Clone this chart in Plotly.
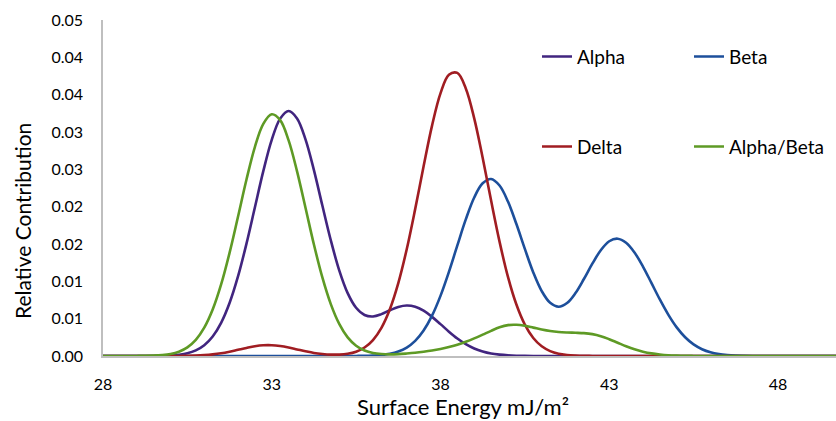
import plotly.graph_objects as go

x_values = [28.0, 28.25, 28.5, 28.75, 29.0, 29.25, 29.5, 29.75, 30.0, 30.25, 30.5, 30.75,
            31.0, 31.25, 31.5, 31.75, 32.0, 32.25, 32.5, 32.75, 33.0, 33.25, 33.5, 33.75,
            34.0, 34.25, 34.5, 34.75, 35.0, 35.25, 35.5, 35.75, 36.0, 36.25, 36.5, 36.75,
            37.0, 37.25, 37.5, 37.75, 38.0, 38.25, 38.5, 38.75, 39.0, 39.25, 39.5, 39.75,
            40.0, 40.25, 40.5, 40.75, 41.0, 41.25, 41.5, 41.75, 42.0, 42.25, 42.5, 42.75,
            43.0, 43.25, 43.5, 43.75, 44.0, 44.25, 44.5, 44.75, 45.0, 45.25, 45.5, 45.75,
            46.0, 46.25, 46.5, 46.75, 47.0, 47.25, 47.5, 47.75, 48.0, 48.25, 48.5, 48.75,
            49.0, 49.25, 49.5, 49.75, 50.0]

alpha = [0, 0, 0, 0, 0, 0, 0.00001, 0.00003, 0.00007, 0.00017, 0.00036, 0.00075,
         0.00144, 0.00261, 0.00444, 0.00709, 0.01065, 0.01502, 0.01989, 0.02476, 0.02895, 0.03179, 0.03281, 0.03182,
         0.02901, 0.02489, 0.02015, 0.0155, 0.01147, 0.00842, 0.00646, 0.00549, 0.0053, 0.00561, 0.00613, 0.00657,
         0.00676, 0.0066, 0.00607, 0.00524, 0.00427, 0.00326, 0.00234, 0.00158, 0.001, 0.0006, 0.00033, 0.00018,
         0.00009, 0.00004, 0.00002, 0.00001, 0, 0, 0, 0, 0, 0, 0, 0,
         0, 0, 0, 0, 0, 0, 0, 0, 0, 0, 0, 0,
         0, 0, 0, 0, 0, 0, 0, 0, 0, 0, 0, 0,
         0, 0, 0, 0, 0]

beta = [0, 0, 0, 0, 0, 0, 0, 0, 0, 0, 0, 0,
        0, 0, 0, 0, 0, 0, 0, 0, 0, 0, 0, 0,
        0, 0, 0, 0, 0, 0, 0.00001, 0.00002, 0.00006, 0.00013, 0.00029, 0.00059,
        0.00112, 0.00202, 0.00341, 0.0054, 0.00805, 0.01126, 0.01481, 0.01829, 0.02123, 0.02313, 0.02371, 0.02283,
        0.02068, 0.01767, 0.01434, 0.01119, 0.00869, 0.00712, 0.0066, 0.00709, 0.00843, 0.01031, 0.01236, 0.01417,
        0.01537, 0.01571, 0.01517, 0.01386, 0.01198, 0.00979, 0.00757, 0.00554, 0.00383, 0.00251, 0.00155, 0.00091,
        0.0005, 0.00026, 0.00013, 0.00006, 0.00003, 0.00001, 0, 0, 0, 0, 0, 0,
        0, 0, 0, 0, 0]

delta = [0, 0, 0, 0, 0, 0, 0, 0, 0, 0.00001, 0.00003, 0.00006,
         0.00012, 0.00022, 0.00037, 0.00058, 0.00083, 0.00108, 0.0013, 0.00143, 0.00144, 0.00133, 0.00113, 0.00088,
         0.00063, 0.00041, 0.00027, 0.00019, 0.00019, 0.0003, 0.00058, 0.00114, 0.00214, 0.00378, 0.00627, 0.00977,
         0.0143, 0.01967, 0.02541, 0.03085, 0.03517, 0.03767, 0.03791, 0.03584, 0.03183, 0.02655, 0.02081, 0.01532,
         0.01059, 0.00689, 0.0042, 0.00241, 0.0013, 0.00066, 0.00031, 0.00014, 0.00006, 0.00002, 0.00001, 0,
         0, 0, 0, 0, 0, 0, 0, 0, 0, 0, 0, 0,
         0, 0, 0, 0, 0, 0, 0, 0, 0, 0, 0, 0,
         0, 0, 0, 0, 0]

alpha_beta = [0, 0, 0, 0, 0.00001, 0.00002, 0.00005, 0.00012, 0.00027, 0.00058, 0.00116, 0.00216,
              0.00379, 0.00622, 0.00958, 0.01381, 0.01865, 0.0236, 0.02799, 0.0311, 0.03238, 0.03159, 0.02888, 0.02473,
              0.01986, 0.01493, 0.01052, 0.00695, 0.0043, 0.00249, 0.00137, 0.00073, 0.0004, 0.00026, 0.00022, 0.00025,
              0.00033, 0.00043, 0.00057, 0.00074, 0.00095, 0.0012, 0.0015, 0.0019, 0.00236, 0.00286, 0.00337, 0.00384,
              0.00414, 0.00418, 0.00404, 0.0038, 0.00355, 0.00335, 0.00322, 0.00315, 0.00311, 0.00306, 0.00293, 0.00266,
              0.00225, 0.00178, 0.00131, 0.0009, 0.00058, 0.00035, 0.0002, 0.0001, 0.00005, 0.00002, 0.00001, 0,
              0, 0, 0, 0, 0, 0, 0, 0, 0, 0, 0, 0,
              0, 0, 0, 0, 0]

series_names = ["Alpha", "Beta", "Delta", "Alpha/Beta"]
series_colors = ["#41257f", "#1d4f9b", "#a01d22", "#5e9a25"]
series_legends = ["legend", "legend", "legend2", "legend2"]

x_ticks = [28, 33, 38, 43, 48]
y_ticks = [0, 0.005, 0.01, 0.015, 0.02, 0.025, 0.03, 0.035, 0.04, 0.045]
y_tick_text = ["0.00", "0.01", "0.01", "0.02", "0.02", "0.03", "0.03", "0.04", "0.04", "0.05"]

FONT = "Lato, 'Open Sans', sans-serif"

W, H = 836, 421
ML, MT, MB, MR = 103, 20, 65, 0
PW, PH = W - ML - MR, H - MT - MB


def px(x):
    return (x - ML) / PW


def py(y):
    return 1 - (y - MT) / PH


fig = go.Figure()
for name, ys, col, lg in zip(series_names, [alpha, beta, delta, alpha_beta], series_colors, series_legends):
    fig.add_trace(go.Scatter(
        x=x_values, y=ys, mode="lines", name=name,
        line=dict(color=col, width=2.6, shape="spline", smoothing=1.0),
        legend=lg,
    ))

fig.update_layout(
    width=W, height=H,
    margin=dict(l=ML, r=MR, t=MT, b=MB, pad=0, autoexpand=False),
    paper_bgcolor="white", plot_bgcolor="white",
    font=dict(family=FONT, color="black", size=16),
    showlegend=True,
    legend=dict(orientation="h", x=px(537), y=py(56.7), xanchor="left", yanchor="middle",
                entrywidth=107, entrywidthmode="pixels", font=dict(size=19, family=FONT),
                bgcolor="rgba(0,0,0,0)", itemclick=False),
    legend2=dict(orientation="h", x=px(537), y=py(146.7), xanchor="left", yanchor="middle",
                 entrywidth=107, entrywidthmode="pixels", font=dict(size=19, family=FONT),
                 bgcolor="rgba(0,0,0,0)", itemclick=False),
    xaxis=dict(range=[28, 49.72], tickvals=x_ticks, ticktext=[str(v) for v in x_ticks],
               showgrid=False, zeroline=False, showline=True, linecolor="#bfbfbf", linewidth=1.5,
               ticks="outside", ticklen=13, tickcolor="rgba(0,0,0,0)",
               tickfont=dict(size=16, family=FONT), automargin=False),
    yaxis=dict(range=[0, 0.045], tickvals=y_ticks, ticktext=y_tick_text,
               showgrid=False, zeroline=False, showline=True, linecolor="#bfbfbf", linewidth=1.5,
               ticks="outside", ticklen=15, tickcolor="rgba(0,0,0,0)",
               tickfont=dict(size=16, family=FONT), automargin=False),
    annotations=[
        dict(text="Relative Contribution", textangle=-90, x=px(22), y=py(221),
             xref="paper", yref="paper", xanchor="center", yanchor="middle",
             showarrow=False, font=dict(size=21, family=FONT)),
        dict(text="Surface Energy mJ/m²", x=px(463), y=py(407),
             xref="paper", yref="paper", xanchor="center", yanchor="middle",
             showarrow=False, font=dict(size=22, family=FONT)),
    ],
)

fig.write_html(
    "out.html",
    config={"displayModeBar": False},
    post_script="document.body.style.margin='0';document.body.style.overflow='hidden';",
)
